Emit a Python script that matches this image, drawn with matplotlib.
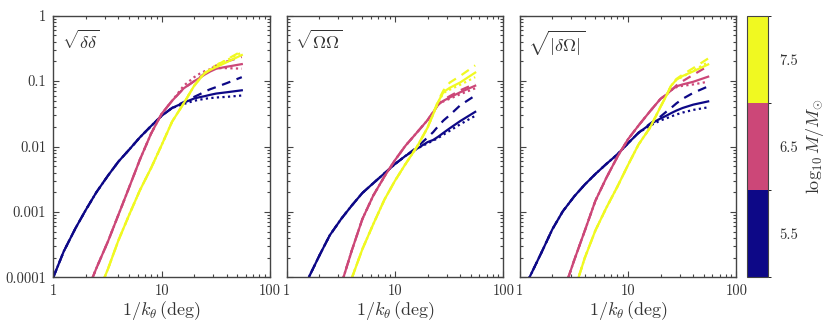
import numpy as np
import matplotlib
matplotlib.use("Agg")
import matplotlib.pyplot as plt
from matplotlib import colors as mcolors
from matplotlib.ticker import FixedLocator, FixedFormatter, LogLocator, NullFormatter

plt.rcParams['font.family'] = 'serif'
plt.rcParams['font.serif'] = ['cmr10', 'DejaVu Serif']
plt.rcParams['mathtext.fontset'] = 'cm'
plt.rcParams['axes.formatter.use_mathtext'] = True

nan = np.nan

# 1/k_theta (deg), common grid
x = [1, 1.25, 1.6, 2, 2.5, 3.2, 4, 5, 6.3, 8, 10, 12.5, 16, 20, 22.5, 25, 28, 32, 40, 55]
TAIL = 12  # dashed / dotted split from the solid line from x[12] = 16 on

masses = [5.5, 6.5, 7.5]
mass_colors = ['#0d0887', '#cc4778', '#f0f921']

# sqrt(delta delta)
dd_55 = [1.0e-4, 2.5e-4, 5.6e-4, 1.08e-3, 2.0e-3, 3.6e-3, 5.9e-3, 8.9e-3, 0.0138, 0.0206,
         0.0295, 0.0389, 0.0468, 0.0543, 0.0569, 0.0589, 0.0617, 0.0646, 0.0676, 0.0724]
dd_65 = [nan, nan, nan, 5.5e-5, 1.38e-4, 3.55e-4, 9.1e-4, 2.34e-3, 6.3e-3, 0.0158,
         0.0316, 0.0501, 0.0776, 0.1, 0.112, 0.126, 0.14, 0.155, 0.166, 0.182]
dd_75 = [nan, nan, nan, nan, 4.9e-5, 1.35e-4, 3.7e-4, 8.9e-4, 2.14e-3, 4.7e-3,
         0.0105, 0.024, 0.0457, 0.0851, 0.108, 0.132, 0.148, 0.164, 0.195, 0.251]
dd_55_dash = [0.0479, 0.0575, 0.063, 0.0692, 0.075, 0.0813, 0.0933, 0.115]
dd_65_dash = [0.0776, 0.1, 0.114, 0.132, 0.152, 0.174, 0.2, 0.234]
dd_75_dash = [0.0457, 0.0851, 0.108, 0.132, 0.15, 0.174, 0.214, 0.288]
dd_55_dot = [0.0447, 0.0501, 0.052, 0.0537, 0.055, 0.0562, 0.0575, 0.0603]
dd_65_dot = [0.0851, 0.115, 0.13, 0.142, 0.152, 0.158, 0.158, 0.155]
dd_75_dot = [0.0457, 0.0851, 0.11, 0.135, 0.15, 0.178, 0.209, 0.275]

# sqrt(Omega Omega)
oo_55 = [nan, 4.3e-5, 1.0e-4, 2.14e-4, 4.4e-4, 7.9e-4, 1.26e-3, 1.95e-3, 2.75e-3, 3.9e-3,
         5.4e-3, 7.2e-3, 9.3e-3, 0.0117, 0.0126, 0.0141, 0.0162, 0.019, 0.0245, 0.0339]
oo_65 = [nan, nan, nan, nan, nan, 7.9e-5, 2.6e-4, 7.8e-4, 1.78e-3, 3.5e-3,
         6.2e-3, 0.0103, 0.0165, 0.0254, 0.0335, 0.0437, 0.0501, 0.0562, 0.0676, 0.0851]
oo_75 = [nan, nan, nan, nan, nan, 3.5e-5, 9.8e-5, 2.7e-4, 6.5e-4, 1.55e-3,
         3.0e-3, 5.4e-3, 0.01, 0.0195, 0.031, 0.048, 0.068, 0.079, 0.0955, 0.135]
oo_55_dash = [9.8e-3, 0.0138, 0.0166, 0.0204, 0.025, 0.0302, 0.0427, 0.0603]
oo_65_dash = [0.0165, 0.0254, 0.0335, 0.0437, 0.052, 0.0589, 0.0724, 0.0912]
oo_75_dash = [0.01, 0.0195, 0.032, 0.05, 0.072, 0.095, 0.12, 0.174]
oo_55_dot = [9.3e-3, 0.0112, 0.0123, 0.0135, 0.0152, 0.0174, 0.0219, 0.0295]
oo_65_dot = [0.0165, 0.0254, 0.0335, 0.0437, 0.049, 0.0537, 0.0631, 0.0776]
oo_75_dot = [0.01, 0.0195, 0.031, 0.047, 0.066, 0.074, 0.088, 0.115]

# sqrt(|delta Omega|)
do_55 = [4.7e-5, 1.05e-4, 2.45e-4, 5.4e-4, 1.02e-3, 1.74e-3, 2.63e-3, 3.8e-3, 5.4e-3, 7.6e-3,
         0.0112, 0.0162, 0.0219, 0.0269, 0.0295, 0.0324, 0.0355, 0.0389, 0.0437, 0.049]
do_65 = [nan, nan, nan, nan, 5.6e-5, 1.86e-4, 5.2e-4, 1.48e-3, 3.3e-3, 7.0e-3,
         0.0129, 0.0209, 0.0347, 0.0537, 0.0617, 0.0724, 0.0832, 0.0891, 0.0977, 0.117]
do_75 = [nan, nan, nan, nan, nan, 6.3e-5, 2.0e-4, 5.2e-4, 1.15e-3, 2.45e-3,
         5.2e-3, 0.0107, 0.0195, 0.0407, 0.0589, 0.0851, 0.105, 0.12, 0.141, 0.18]
do_55_dash = [0.0224, 0.0288, 0.0339, 0.0389, 0.0457, 0.0537, 0.0661, 0.0832]
do_65_dash = [0.0347, 0.0537, 0.0617, 0.0724, 0.086, 0.1, 0.125, 0.17]
do_75_dash = [0.0195, 0.0407, 0.0589, 0.0851, 0.108, 0.126, 0.158, 0.222]
do_55_dot = [0.0209, 0.0251, 0.0269, 0.0288, 0.0309, 0.0331, 0.0363, 0.0398]
do_65_dot = [0.0347, 0.0537, 0.0617, 0.0724, 0.081, 0.085, 0.089, 0.098]
do_75_dot = [0.0195, 0.0407, 0.0589, 0.0851, 0.105, 0.117, 0.145, 0.195]

panels = [
    (r'$\sqrt{\delta\delta}$', [dd_55, dd_65, dd_75], [dd_55_dash, dd_65_dash, dd_75_dash],
     [dd_55_dot, dd_65_dot, dd_75_dot]),
    (r'$\sqrt{\Omega\Omega}$', [oo_55, oo_65, oo_75], [oo_55_dash, oo_65_dash, oo_75_dash],
     [oo_55_dot, oo_65_dot, oo_75_dot]),
    (r'$\sqrt{|\delta\Omega|}$', [do_55, do_65, do_75], [do_55_dash, do_65_dash, do_75_dash],
     [do_55_dot, do_65_dot, do_75_dot]),
]

text_col = '#333333'
frame_col = '#444444'

fig = plt.figure(figsize=(8.3, 3.21), dpi=100)
lefts = [0.0642, 0.3454, 0.6261]
for i, (title, solid, dash, dot) in enumerate(panels):
    ax = fig.add_axes([lefts[i], 0.136, 0.261, 0.815])
    for k in range(3):
        c = mass_colors[k]
        ax.plot(x, solid[k], color=c, lw=1.6, ls='-')
        ax.plot(x, solid[k][:TAIL] + dash[k], color=c, lw=1.6, ls=(0, (4, 3)))
        ax.plot(x, solid[k][:TAIL] + dot[k], color=c, lw=1.6, ls=(0, (1, 1.5)))
    ax.set_xscale('log')
    ax.set_yscale('log')
    ax.set_xlim(1, 100)
    ax.set_ylim(1e-4, 1)
    ax.xaxis.set_major_locator(FixedLocator([1, 10, 100]))
    ax.xaxis.set_major_formatter(FixedFormatter(['1', '10', '100']))
    ax.xaxis.set_minor_locator(LogLocator(base=10, subs=np.arange(2, 10)))
    ax.xaxis.set_minor_formatter(NullFormatter())
    ax.yaxis.set_major_locator(FixedLocator([1e-4, 1e-3, 1e-2, 1e-1, 1]))
    if i == 0:
        ax.yaxis.set_major_formatter(FixedFormatter(['0.0001', '0.001', '0.01', '0.1', '1']))
    else:
        ax.yaxis.set_major_formatter(NullFormatter())
    ax.yaxis.set_minor_locator(LogLocator(base=10, subs=np.arange(2, 10)))
    ax.yaxis.set_minor_formatter(NullFormatter())
    ax.tick_params(which='both', direction='in', top=True, right=True, colors=frame_col,
                   labelcolor=text_col, labelsize=10.5, width=0.8)
    ax.tick_params(which='major', length=4, pad=5)
    ax.tick_params(which='minor', length=2)
    for s in ax.spines.values():
        s.set_color(frame_col)
        s.set_linewidth(1.0)
    ax.text(0.04, 0.95, title, transform=ax.transAxes, ha='left', va='top',
            fontsize=13, color=text_col)
    ax.set_xlabel(r'$1/k_\theta\,(\mathrm{deg})$', fontsize=13, color=text_col, labelpad=1)

# discrete colour bar for log10 M/M_sun
cax = fig.add_axes([0.9, 0.136, 0.0253, 0.815])
cmap = mcolors.ListedColormap(mass_colors)
norm = mcolors.BoundaryNorm([5, 6, 7, 8], cmap.N)
cb = fig.colorbar(plt.cm.ScalarMappable(norm=norm, cmap=cmap), cax=cax, ticks=masses)
cb.ax.set_yticklabels(['5.5', '6.5', '7.5'])
cb.ax.tick_params(length=0, labelsize=10.5, labelcolor=text_col, pad=8)
cb.outline.set_edgecolor(frame_col)
cb.set_label(r'$\log_{10} M/M_{\odot}$', fontsize=13, color=text_col, labelpad=4)

fig.savefig('out.png', dpi=100)
